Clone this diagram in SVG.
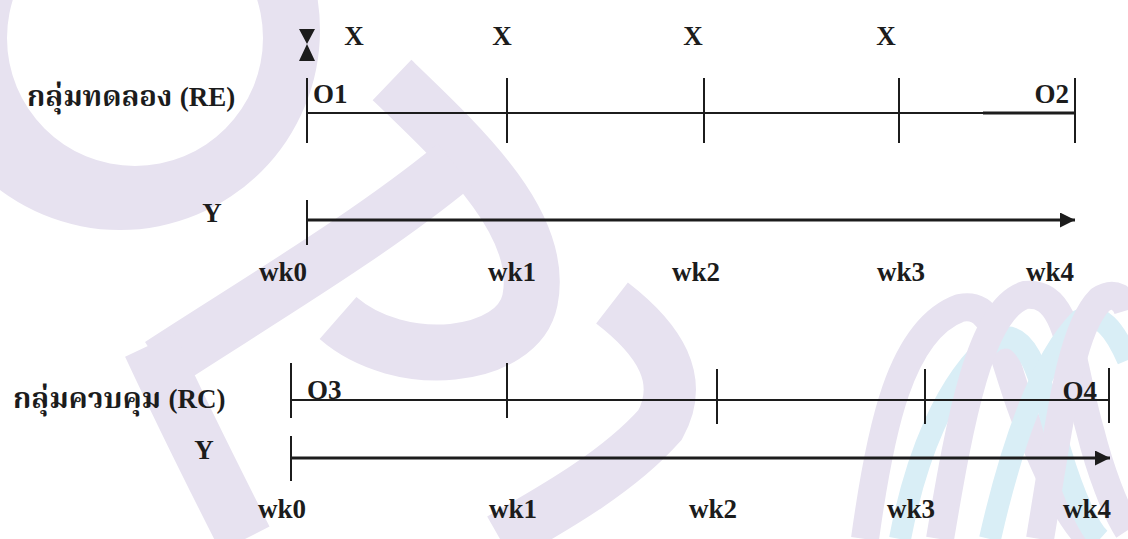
<svg xmlns="http://www.w3.org/2000/svg" width="1128" height="539" viewBox="0 0 1128 539">
<defs>
<style>
.t{font-family:"Liberation Serif","Times New Roman",serif;font-weight:bold;font-size:27px;fill:#1c1c1c}
.th{font-family:"Noto Serif Thai","Noto Sans Thai Looped","Norasi","Kinnari","Loma","Garuda","Noto Sans Thai","DejaVu Sans",sans-serif;font-weight:bold;font-size:29px;fill:#1c1c1c}
.ln{stroke:#1c1c1c;stroke-width:2;fill:none}
.ax{stroke:#1c1c1c;stroke-width:3;fill:none}
.wf{fill:#e7e2f0}
.wl{fill:none;stroke:#e7e2f0}
.wc{fill:none;stroke:#d9eef6}
</style>
<marker id="arr" viewBox="0 0 10 10" refX="10" refY="5" markerWidth="5.5" markerHeight="5" markerUnits="strokeWidth" orient="auto">
<path d="M0,0 L10,5 L0,10 Z" fill="#1c1c1c"/>
</marker>
</defs>
<rect width="1128" height="539" fill="#ffffff"/>
<g id="watermark">
<path class="wf" fill-rule="evenodd" d="M-80 30 A200 200 0 1 0 320 30 A200 200 0 1 0 -80 30 Z M7 38 A128 128 0 1 0 263 38 A128 128 0 1 0 7 38 Z"/>
<path class="wl" stroke-width="56" d="M392 80 C 465 150 545 225 530 300 C 518 360 400 372 338 318"/>
<path class="wl" stroke-width="55" d="M455 165 C 370 235 260 300 160 365"/>
<path class="wl" stroke-width="55" d="M150 345 C 185 420 215 480 245 539"/>
<path class="wl" stroke-width="52" d="M612 303 C 660 340 685 380 660 425 C 620 470 560 505 500 539"/>
<path class="wl" stroke-width="28" d="M865 539 C 880 430 900 330 960 308 C 1000 300 1000 360 1030 430 C 1050 480 1070 520 1090 539"/>
<path class="wc" stroke-width="22" d="M900 539 C 915 460 945 380 995 340 C 1030 325 1040 380 1060 450 C 1075 500 1090 530 1100 539"/>
<path class="wl" stroke-width="28" d="M940 539 C 960 420 980 310 1025 295 C 1070 290 1070 360 1090 430 C 1100 470 1115 510 1128 530"/>
<path class="wc" stroke-width="22" d="M990 539 C 1010 450 1040 360 1080 320 C 1100 310 1115 330 1128 360"/>
<path class="wl" stroke-width="28" d="M1040 539 C 1060 420 1070 330 1100 300 C 1115 290 1125 300 1128 310"/>
</g>
<g id="connectors">
<line class="ln" x1="307" y1="113" x2="1075" y2="113"/>
<line x1="983" y1="113" x2="1075" y2="113" stroke="#1c1c1c" stroke-width="3"/>
<line class="ln" x1="307" y1="78" x2="307" y2="143"/>
<line class="ln" x1="507" y1="78" x2="507" y2="143"/>
<line class="ln" x1="704" y1="78" x2="704" y2="143"/>
<line class="ln" x1="899" y1="78" x2="899" y2="143"/>
<line class="ln" x1="1075" y1="78" x2="1075" y2="143"/>
<line class="ln" x1="307" y1="200" x2="307" y2="245"/>
<line class="ax" x1="307" y1="220" x2="1075" y2="220" marker-end="url(#arr)"/>
<line class="ln" x1="291" y1="400" x2="1109" y2="400"/>
<line class="ln" x1="291" y1="363" x2="291" y2="418"/>
<line class="ln" x1="507" y1="363" x2="507" y2="418"/>
<line class="ln" x1="717" y1="369" x2="717" y2="424"/>
<line class="ln" x1="925" y1="369" x2="925" y2="424"/>
<line class="ln" x1="1109" y1="368" x2="1109" y2="423"/>
<line class="ln" x1="291" y1="436" x2="291" y2="481"/>
<line class="ax" x1="291" y1="458" x2="1110" y2="458" marker-end="url(#arr)"/>
</g>
<g id="marker-re">
<path d="M299 29 L315 29 L307 44 Z M307 44 L315 61 L299 61 Z" fill="#1c1c1c"/>
</g>
<g id="label-re">
<text class="th" x="27" y="106">กลุ่มทดลอง <tspan class="t">(RE)</tspan></text>
</g>
<g id="x-labels">
<text class="t" x="354" y="45" text-anchor="middle">X</text>
<text class="t" x="502" y="45" text-anchor="middle">X</text>
<text class="t" x="693" y="45" text-anchor="middle">X</text>
<text class="t" x="886" y="45" text-anchor="middle">X</text>
</g>
<g id="obs-re">
<text class="t" x="313" y="103">O1</text>
<text class="t" x="1069" y="103" text-anchor="end">O2</text>
</g>
<g id="y-re">
<text class="t" x="212" y="222" text-anchor="middle">Y</text>
</g>
<g id="weeks-re">
<text class="t" x="283" y="281" text-anchor="middle">wk0</text>
<text class="t" x="512" y="281" text-anchor="middle">wk1</text>
<text class="t" x="696" y="281" text-anchor="middle">wk2</text>
<text class="t" x="901" y="281" text-anchor="middle">wk3</text>
<text class="t" x="1050" y="281" text-anchor="middle">wk4</text>
</g>
<g id="label-rc">
<text class="th" x="13" y="408">กลุ่มควบคุม <tspan class="t">(RC)</tspan></text>
</g>
<g id="obs-rc">
<text class="t" x="307" y="399">O3</text>
<text class="t" x="1097" y="400" text-anchor="end">O4</text>
</g>
<g id="y-rc">
<text class="t" x="204" y="459" text-anchor="middle">Y</text>
</g>
<g id="weeks-rc">
<text class="t" x="282" y="518" text-anchor="middle">wk0</text>
<text class="t" x="513" y="518" text-anchor="middle">wk1</text>
<text class="t" x="713" y="518" text-anchor="middle">wk2</text>
<text class="t" x="911" y="518" text-anchor="middle">wk3</text>
<text class="t" x="1087" y="518" text-anchor="middle">wk4</text>
</g>
</svg>
